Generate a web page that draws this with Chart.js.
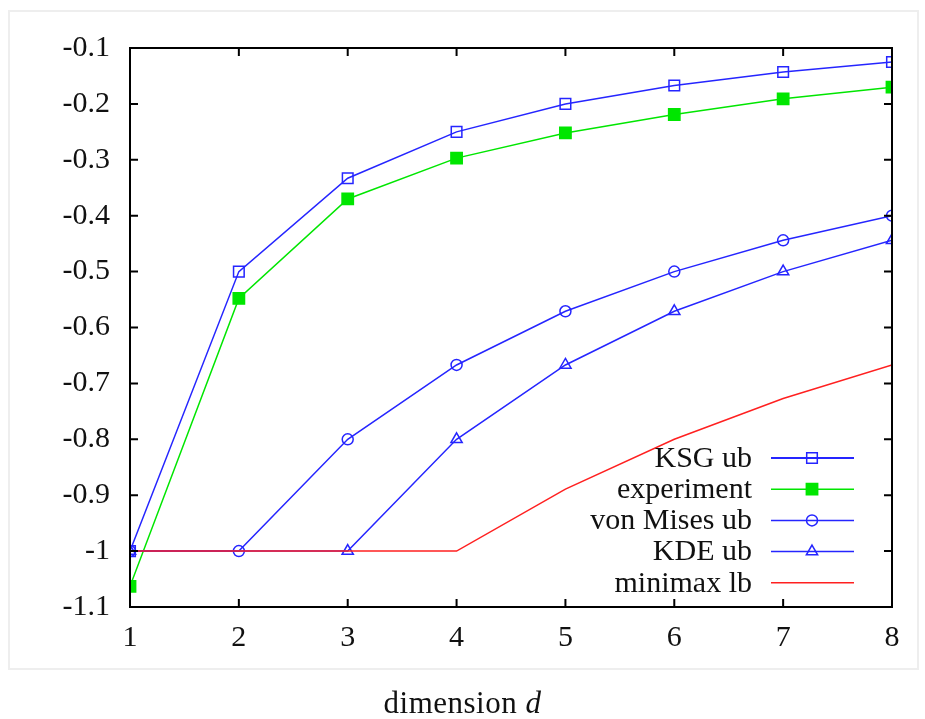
<!DOCTYPE html>
<html>
<head>
<meta charset="utf-8">
<script src="https://cdn.jsdelivr.net/npm/chart.js@4.4.1/dist/chart.umd.min.js"></script>
<style>
  body { margin: 0; background: #fff; }
  #frame { position: absolute; left: 8px; top: 10px; width: 907px; height: 656px; border: 2px solid #eeeeee; }
  #chart { position: absolute; left: 0; top: 0; }
  #xtitle { position: absolute; left: 0; width: 925px; top: 687px; text-align: center; line-height: 1;
    font-family: "Liberation Serif", serif; font-size: 31px; color: #111; letter-spacing: 0.5px; }
</style>
</head>
<body>
<div id="frame"></div>
<canvas id="chart" width="925" height="719"></canvas>
<div id="xtitle">dimension <i>d</i></div>
<script>
const dims = [1, 2, 3, 4, 5, 6, 7, 8];
const yTickLabels = ["-1.1", "-1", "-0.9", "-0.8", "-0.7", "-0.6", "-0.5", "-0.4", "-0.3", "-0.2", "-0.1"];

const ksgUb = [-1, -0.5, -0.333, -0.25, -0.2, -0.167, -0.143, -0.125];
const experiment = [-1.063, -0.548, -0.370, -0.297, -0.252, -0.219, -0.191, -0.170];
const vonMisesUb = [-1, -1, -0.8, -0.667, -0.571, -0.5, -0.444, -0.4];
const kdeUb = [-1, null, -1, -0.8, -0.667, -0.571, -0.5, -0.444];
const minimaxLb = [-1, -1, -1, -1, -0.889, -0.8, -0.727, -0.667];

const BLUE = "#2525ff";
const GREEN = "#00e600";
const RED = "#ff2020";
const FONT = "Liberation Serif";

function pts(arr) {
  return dims.map((d, i) => ({ x: d, y: arr[i] }));
}

const series = [
  { label: "KSG ub", data: ksgUb, color: BLUE, style: "rect", radius: 7.5, fill: false },
  { label: "experiment", data: experiment, color: GREEN, style: "rect", radius: 8, fill: true },
  { label: "von Mises ub", data: vonMisesUb, color: BLUE, style: "circle", radius: 5.5, fill: false },
  { label: "KDE ub", data: kdeUb, color: BLUE, style: "triangle", radius: 6.5, fill: false },
  { label: "minimax lb", data: minimaxLb, color: RED, style: false, radius: 0, fill: false },
];

const datasets = series.map((s, i) => ({
  label: s.label,
  data: pts(s.data),
  borderColor: s.color,
  borderWidth: 1.5,
  pointStyle: s.style,
  pointRadius: s.radius,
  pointBorderColor: s.color,
  pointBorderWidth: 1.5,
  pointBackgroundColor: s.fill ? s.color : "transparent",
  spanGaps: true,
  order: series.length - i,
  tension: 0,
}));

// frame + inward tick marks on all four sides
const axesPlugin = {
  id: "axesPlugin",
  afterDatasetsDraw(chart) {
    const { ctx, chartArea: a, scales } = chart;
    ctx.save();
    ctx.strokeStyle = "#000";
    ctx.lineWidth = 2;
    ctx.strokeRect(a.left, a.top, a.right - a.left, a.bottom - a.top);
    const len = 8;
    ctx.beginPath();
    scales.x.ticks.forEach((t) => {
      const px = scales.x.getPixelForValue(t.value);
      ctx.moveTo(px, a.bottom); ctx.lineTo(px, a.bottom - len);
      ctx.moveTo(px, a.top); ctx.lineTo(px, a.top + len);
    });
    scales.y.ticks.forEach((t) => {
      const py = scales.y.getPixelForValue(t.value);
      ctx.moveTo(a.left, py); ctx.lineTo(a.left + len, py);
      ctx.moveTo(a.right, py); ctx.lineTo(a.right - len, py);
    });
    ctx.stroke();
    ctx.restore();
  },
  afterDraw(chart) {
    // legend in the lower right corner, gnuplot style
    const { ctx } = chart;
    ctx.save();
    ctx.font = "30px '" + FONT + "'";
    ctx.textAlign = "right";
    ctx.textBaseline = "middle";
    series.forEach((s, i) => {
      const y = 458 + i * 31.2;
      ctx.fillStyle = "#111";
      ctx.fillText(s.label, 752, y + 1);
      ctx.strokeStyle = s.color;
      ctx.lineWidth = i === 0 ? 2 : 1.5;
      ctx.beginPath();
      ctx.moveTo(771, y); ctx.lineTo(854, y);
      ctx.stroke();
      if (s.style) {
        ctx.fillStyle = s.fill ? s.color : "transparent";
        ctx.lineWidth = 1.5;
        Chart.helpers.drawPoint(ctx, { pointStyle: s.style, radius: s.radius, borderWidth: 1.5 }, 812, y);
        if (s.fill) ctx.fill();
      }
    });
    ctx.restore();
  },
};

new Chart(document.getElementById("chart").getContext("2d"), {
  type: "line",
  data: { datasets: datasets },
  options: {
    responsive: false,
    animation: false,
    layout: { padding: { top: 48, right: 33, left: 0, bottom: 0 } },
    plugins: { legend: { display: false }, tooltip: { enabled: false } },
    scales: {
      x: {
        type: "linear",
        min: 1,
        max: 8,
        grid: { display: false, drawTicks: false },
        border: { display: false },
        ticks: {
          stepSize: 1,
          padding: 13,
          color: "#111",
          font: { family: FONT, size: 30 },
          maxRotation: 0,
        },
        afterFit(scale) { scale.height = 112; },
      },
      y: {
        min: -1.1,
        max: -0.1,
        grid: { display: false, drawTicks: false },
        border: { display: false },
        ticks: {
          stepSize: 0.1,
          padding: 20,
          color: "#111",
          font: { family: FONT, size: 30 },
          callback: (v) => {
            const idx = Math.round((v + 1.1) * 10);
            return yTickLabels[idx];
          },
        },
        afterFit(scale) { scale.width = 130; },
      },
    },
  },
  plugins: [axesPlugin],
});
</script>
</body>
</html>
